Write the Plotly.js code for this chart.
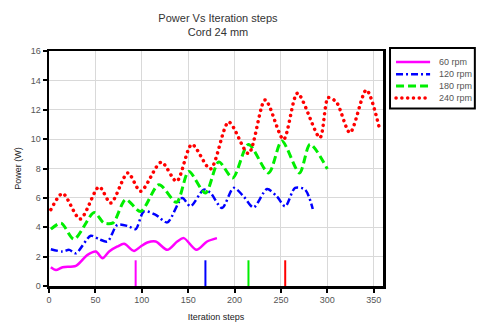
<!DOCTYPE html>
<html>
<head>
<meta charset="utf-8">
<script src="https://cdn.plot.ly/plotly-3.0.1.min.js"></script>
<style>html,body{margin:0;padding:0;background:#fff;}#chart{width:477px;height:322px;}</style>
</head>
<body>
<div id="chart"></div>
<script>
// 60 rpm
const x60 = [2, 7.5, 14.7, 29, 41.5, 50.5, 57.7, 64.8, 73.8, 81, 91.6, 98.8, 106, 115, 127.5, 138.2, 145.3, 159, 170.4, 181];
const y60 = [1.28, 1.09, 1.28, 1.37, 2.12, 2.35, 1.89, 2.35, 2.69, 2.87, 2.39, 2.69, 2.96, 3.03, 2.46, 3.03, 3.26, 2.46, 3.03, 3.26];
// 120 rpm
const x120 = [2, 14.7, 21.8, 29, 45, 54, 63, 73.8, 86, 93.4, 102.4, 115, 127.5, 143.6, 152.5, 166.8, 174, 186.5, 199, 209.8, 220.5, 235, 245.6, 254.6, 265.3, 276, 284.3];
const y120 = [2.5, 2.35, 2.46, 2.23, 3.42, 3.19, 3.03, 4.17, 4.06, 3.87, 5.08, 4.85, 4.33, 5.99, 5.42, 6.56, 6.34, 5.31, 6.68, 6.1, 5.35, 6.6, 6.1, 5.42, 6.68, 6.56, 5.24];
// 180 rpm
const x180 = [2, 13, 27, 48.7, 59, 69, 82.7, 98.8, 118.5, 137.5, 150.7, 168.6, 183, 198, 215, 236.7, 251, 270, 281.4, 300];
const y180 = [3.87, 4.28, 3.19, 5.0, 4.3, 4.3, 5.88, 5.08, 6.9, 5.7, 7.8, 6.33, 8.45, 7.36, 9.64, 7.7, 9.87, 7.7, 9.64, 7.97];
// 240 rpm
const x240 = [2, 14.7, 33.6, 54, 66.6, 85, 98.8, 121, 137.5, 154, 174, 193.7, 215, 233, 252.8, 267.8, 292, 301, 310, 324.4, 342, 355.5];
const y240 = [5.2, 6.3, 4.56, 6.75, 5.65, 7.7, 6.45, 8.43, 7.13, 9.64, 7.97, 11.16, 9.02, 12.67, 9.98, 13.12, 10.1, 12.83, 12.5, 10.44, 13.35, 10.9];
// vertical marker lines
const markerX = [93.4, 168.6, 215, 254.6];
const markerTop = [1.75, 1.75, 1.75, 1.75];
const seriesNames = ['60 rpm', '120 rpm', '180 rpm', '240 rpm'];
const colors = ['#ff00ff', '#0000ff', '#00ee00', '#ff0000'];
const dashes = ['solid', '7px,3px,2px,3px', '8px,4px', '3.5px,3.5px'];
const widths = [2.5, 2.5, 3, 3.5];

const font = 'Arial, "Liberation Sans", sans-serif';
const xs = [x60, x120, x180, x240];
const ys = [y60, y120, y180, y240];
const traces = xs.map((xv, i) => ({
  x: xv, y: ys[i], name: seriesNames[i], mode: 'lines', showlegend: false,
  line: {color: colors[i], width: widths[i], dash: dashes[i], shape: 'spline', smoothing: 0.8}
}));
markerX.forEach((mx, i) => {
  traces.push({x: [mx, mx], y: [0, markerTop[i]], mode: 'lines', showlegend: false, hoverinfo: 'skip',
    line: {color: colors[i], width: 2}});
});

// custom compact legend (paper coordinates)
const legRows = [0.953, 0.901, 0.851, 0.800];
const shapes = [{type: 'rect', xref: 'paper', yref: 'paper', x0: 1.021, x1: 1.275, y0: 0.755, y1: 1.013,
                 line: {color: '#000', width: 2}, fillcolor: '#fff'}];
const annotations = [];
seriesNames.forEach((n, i) => {
  shapes.push({type: 'line', xref: 'paper', yref: 'paper', x0: 1.039, x1: 1.141, y0: legRows[i], y1: legRows[i],
               line: {color: colors[i], width: widths[i], dash: dashes[i]}});
  annotations.push({xref: 'paper', yref: 'paper', x: 1.162, y: legRows[i], xanchor: 'left', yanchor: 'middle',
                    text: n, showarrow: false, font: {family: font, size: 9, color: '#555'}});
});

const layout = {
  width: 477, height: 322,
  margin: {l: 49, r: 94, t: 51, b: 36},
  paper_bgcolor: '#fff', plot_bgcolor: '#fff',
  font: {family: font, size: 9, color: '#444'},
  title: {text: 'Power Vs Iteration steps<br>Cord 24 mm', font: {family: font, size: 11, color: '#333'},
          x: 0.457, xanchor: 'center', y: 0.933, yanchor: 'top'},
  xaxis: {range: [0, 360], tickvals: [0, 50, 100, 150, 200, 250, 300, 350], ticks: 'outside', ticklen: 4, tickwidth: 2, tickcolor: '#000',
          showline: true, linecolor: '#000', linewidth: 2.5, mirror: true, showgrid: true, gridcolor: '#d9d9d9', gridwidth: 1,
          zeroline: false, tickfont: {size: 9, color: '#555'},
          title: {text: 'Iteration steps', font: {size: 9, color: '#222'}, standoff: 14}},
  yaxis: {range: [0, 16], tickvals: [0, 2, 4, 6, 8, 10, 12, 14, 16], ticks: 'outside', ticklen: 4, tickwidth: 2, tickcolor: '#000',
          showline: true, linecolor: '#000', linewidth: 2.5, mirror: true, showgrid: true, gridcolor: '#d9d9d9', gridwidth: 1,
          zeroline: false, tickfont: {size: 9, color: '#555'},
          title: {text: 'Power (W)', font: {size: 9, color: '#222'}, standoff: 8}},
  showlegend: false,
  shapes: shapes,
  annotations: annotations
};
Plotly.newPlot('chart', traces, layout, {displayModeBar: false, staticPlot: true}).then(() => {
  // round dots for the dotted red series and its legend sample
  document.querySelectorAll('#chart path').forEach(p => {
    const s = p.style.stroke || '';
    const da = p.style.strokeDasharray || '';
    if (s.replace(/\s/g, '') === 'rgb(255,0,0)' && da && da !== 'none') {
      p.style.strokeLinecap = 'round';
      p.style.strokeDasharray = '0.1px,5.7px';
    }
  });
});
</script>
</body>
</html>
